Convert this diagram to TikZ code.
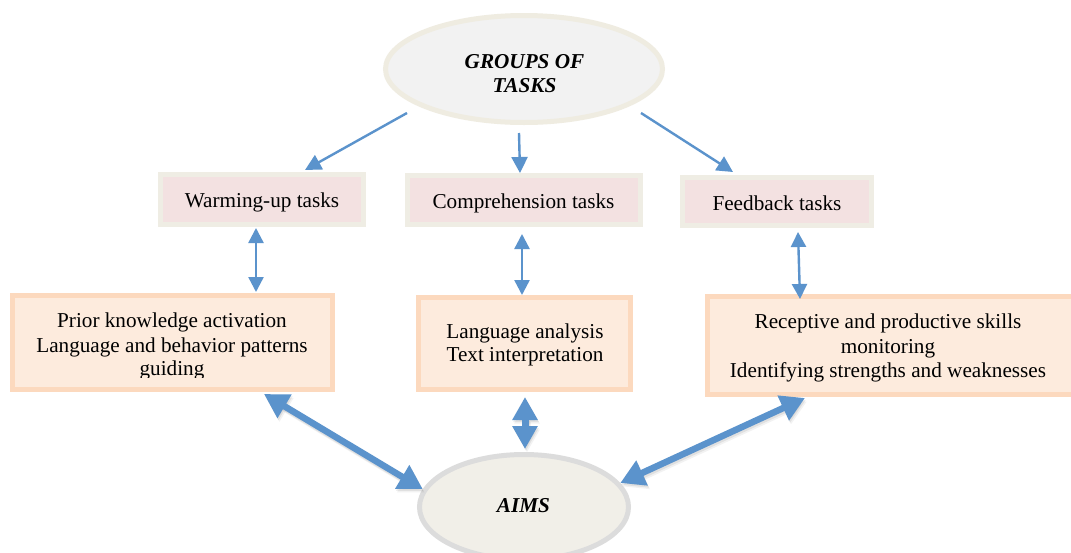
\documentclass[tikz,border=0pt]{standalone}
\usepackage{fontspec}
\setmainfont{Liberation Serif}
\usetikzlibrary{arrows.meta,shapes.geometric,calc}
\definecolor{arrblue}{HTML}{5B93CC}
\definecolor{smallfill}{HTML}{F3E1E1}
\definecolor{smallborder}{HTML}{EFEDE4}
\definecolor{bigfill}{HTML}{FDEBDD}
\definecolor{bigborder}{HTML}{FCD9BE}
\definecolor{topfill}{HTML}{F2F2F2}
\definecolor{topborder}{HTML}{EFECE1}
\definecolor{aimfill}{HTML}{F1EFE8}
\definecolor{aimborder}{HTML}{DCDCDC}
\begin{document}
\begin{tikzpicture}[x=1pt,y=-1pt,
  txt/.style={inner sep=0pt, anchor=base, font=\fontsize{21.2}{24}\selectfont},
  btxt/.style={inner sep=0pt, anchor=base, font=\fontsize{21.2}{24}\selectfont\bfseries\itshape},
  taskbox/.style={draw=smallborder, fill=smallfill, line width=5pt, inner sep=0pt},
  aimbox/.style={draw=bigborder, fill=bigfill, line width=5pt, inner sep=0pt},
  topell/.style={ellipse, draw=topborder, fill=topfill, line width=5pt, inner sep=0pt},
  aimell/.style={ellipse, draw=aimborder, fill=aimfill, line width=5pt, inner sep=0pt},
  thinarr/.style={draw=arrblue, line width=2.4pt, -{Triangle[length=16pt,width=16pt]}},
  dblthin/.style={draw=arrblue, line width=2.4pt, {Triangle[length=15pt,width=15pt]}-{Triangle[length=15pt,width=15pt]}},
  thickarr/.style={draw=arrblue, line width=6.5pt, {Triangle[length=24pt,width=26pt]}-{Triangle[length=24pt,width=26pt]}},
  midarr/.style={draw=arrblue, line width=7pt, {Triangle[length=23pt,width=24pt]}-{Triangle[length=23pt,width=24pt]}},
  shadowa/.style={draw=black, opacity=0.07, transform canvas={shift={(1pt,-2pt)}}},
  shadowb/.style={draw=black, opacity=0.05, transform canvas={shift={(2pt,-3.5pt)}}}
]
\useasboundingbox (0,0) rectangle (1071,552);
\fill[white] (0,0) rectangle (1071,552);

% top ellipse
\node[topell, minimum width=277pt, minimum height=107pt] (gt) at (524,69) {};
\node[btxt] (gt1) at (524.5,68) {GROUPS OF};
\node[btxt] (gt2) at (524.5,92) {TASKS};

% task boxes
\node[taskbox, minimum width=203pt, minimum height=50pt] (wu) at (262,199.5) {};
\node[txt] (wut) at (262,207) {Warming-up tasks};
\node[taskbox, minimum width=233pt, minimum height=49pt] (cb) at (524,200) {};
\node[txt] (cbt) at (523.5,208) {Comprehension tasks};
\node[taskbox, minimum width=189pt, minimum height=48pt] (fb) at (777,201.5) {};
\node[txt] (fbt) at (777,210) {Feedback tasks};

% aim boxes
\node[aimbox, minimum width=320pt, minimum height=94pt] (lb) at (172.5,342.5) {};
\begin{scope}
  \clip (15,298) rectangle (330,377);
  \node[txt] (lb1) at (172,327) {Prior knowledge activation};
  \node[txt] (lb2) at (172,352) {Language and behavior patterns};
  \node[txt] (lb3) at (172,375) {guiding};
\end{scope}
\node[aimbox, minimum width=212pt, minimum height=92pt] (lm) at (524.5,343.5) {};
\node[txt] (lm1) at (525,338) {Language analysis};
\node[txt] (lm2) at (525,361) {Text interpretation};
\node[aimbox, minimum width=367pt, minimum height=98pt] (rb) at (891,345.5) {};
\node[txt] (rb1) at (888,328) {Receptive and productive skills};
\node[txt] (rb2) at (888,353) {monitoring};
\node[txt] (rb3) at (888,377) {Identifying strengths and weaknesses};

% AIMS ellipse
\node[aimell, minimum width=209pt, minimum height=105pt] (aims) at (524,507) {};
\node[btxt] (aimst) at (523.5,512) {AIMS};

% thin arrows from top ellipse
\coordinate (s1) at (407,113);
\coordinate (s2) at (519,133);
\coordinate (s3) at (641,113);
\draw[thinarr] (s1) -- ($(wu.north)+(43,-2)$);
\draw[thinarr] (s2) -- ($(cb.north)+(-4,0)$);
\draw[thinarr] (s3) -- ($(fb.north)+(-44,-3)$);

% thin double arrows
\draw[dblthin] ($(wu.south)+(-6,1)$) -- ($(wu.south |- lb.north)+(-6,-1)$);
\draw[dblthin] ($(cb.south)+(-2,7)$) -- ($(cb.south |- lm.north)+(-2,0)$);
\draw[dblthin] ($(fb.south)+(21,4)$) -- ($(rb.north)+(-91,5)$);

% thick double arrows (with soft shadow)
\coordinate (t1) at ($(lb.south east)+(-71,2)$);
\coordinate (t2) at ($(lm.south)+(0.5,5)$);
\coordinate (t3) at ($(rb.south west)+(100,1)$);
\coordinate (a1) at (aims.170);
\coordinate (a2) at ($(aims.north)+(1,-3)$);
\coordinate (a3) at (aims.14);
\foreach \sh in {shadowa,shadowb} {
  \draw[thickarr, \sh] (t1) -- (a1);
  \draw[midarr, \sh] (t2) -- (a2);
  \draw[thickarr, \sh] (t3) -- (a3);
}
\draw[thickarr] (t1) -- (a1);
\draw[midarr] (t2) -- (a2);
\draw[thickarr] (t3) -- (a3);
\end{tikzpicture}
\end{document}
